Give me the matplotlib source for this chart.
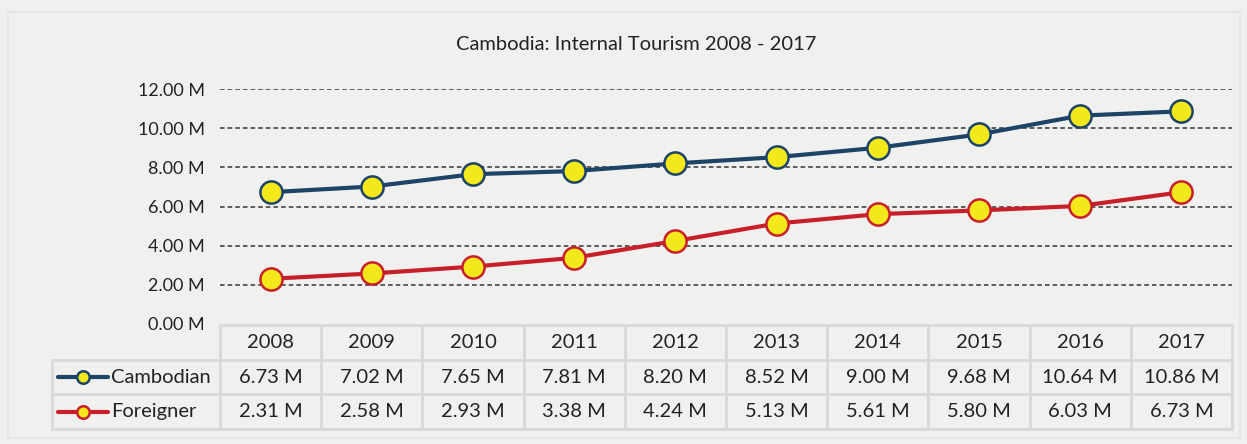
import matplotlib.pyplot as plt
from matplotlib.patches import Rectangle

# data (millions of visitors)
years = ['2008', '2009', '2010', '2011', '2012', '2013', '2014', '2015', '2016', '2017']
cambodian = [6.73, 7.02, 7.65, 7.81, 8.20, 8.52, 9.00, 9.68, 10.64, 10.86]
foreigner = [2.31, 2.58, 2.93, 3.38, 4.24, 5.13, 5.61, 5.80, 6.03, 6.73]
series_names = ['Cambodian', 'Foreigner']
series_colors = ['#1d4366', '#c8202b']
marker_color = '#f2e81a'

plt.rcParams['font.family'] = ['Lato', 'DejaVu Sans']
W, H = 1247, 444
fig = plt.figure(figsize=(W / 100, H / 100), dpi=100)
fig.patch.set_facecolor('#f0f1ee')

# faint outer frame
fig.add_artist(Rectangle((8 / W, 1 - 438 / H), 1232 / W, 426 / H, transform=fig.transFigure,
                         fill=False, edgecolor='#e6e7e5', lw=1.5))

fig.text(636 / W, 1 - 45 / H, 'Cambodia: Internal Tourism 2008 - 2017', ha='center', va='center',
         fontsize=14.5, color='#222222')

# main plot
left, right = 220, 1232
top, bottom = 89, 324
ax = fig.add_axes([left / W, 1 - bottom / H, (right - left) / W, (bottom - top) / H])
ax.set_facecolor('none')
x = list(range(len(years)))
for vals, col in zip([cambodian, foreigner], series_colors):
    ax.plot(x, vals, color=col, lw=3, marker='o', markersize=16, markerfacecolor=marker_color,
            markeredgecolor=col, markeredgewidth=1.8, zorder=3, clip_on=False)
ax.set_xlim(-0.5, len(years) - 0.5)
ax.set_ylim(0, 12)
ax.set_yticks(range(0, 13, 2))
ax.set_yticklabels([f'{v:.2f} M' for v in range(0, 13, 2)], fontsize=13, color='#222222')
ax.set_xticks([])
ax.tick_params(axis='y', length=0, pad=11)
for s in ax.spines.values():
    s.set_visible(False)
for v in range(2, 13, 2):
    ax.axhline(v, color='#333333', lw=1.1, ls=(0, (3, 2)), zorder=1)

# data table
tleft, ttop, tbottom = 52, 325, 429
colw = (right - left) / len(years)
label_w = (left - tleft) / colw
tax = fig.add_axes([tleft / W, 1 - tbottom / H, (right - tleft) / W, (tbottom - ttop) / H])
tax.set_xlim(-0.5 - label_w, len(years) - 0.5)
tax.set_ylim(3, 0)
tax.axis('off')
grid_col = '#d8d9da'
fs = 14.5
for i, yr in enumerate(years):
    tax.add_patch(Rectangle((i - 0.5, 0), 1, 3, fill=False, edgecolor=grid_col, lw=2, clip_on=False))
    tax.text(i, 0.5, yr, ha='center', va='center', fontsize=fs, color='#222222')
    tax.text(i, 1.5, f'{cambodian[i]:.2f} M', ha='center', va='center', fontsize=fs, color='#222222')
    tax.text(i, 2.5, f'{foreigner[i]:.2f} M', ha='center', va='center', fontsize=fs, color='#222222')
for r in (1, 2):
    tax.add_patch(Rectangle((-0.5 - label_w, r), label_w + len(years), 1, fill=False,
                            edgecolor=grid_col, lw=2, clip_on=False))
x0 = -0.5 - label_w
for r, (name, col) in enumerate(zip(series_names, series_colors)):
    yy = 1.5 + r
    tax.plot([x0 + 0.06, x0 + 0.55], [yy, yy], color=col, lw=3, solid_capstyle='round', clip_on=False)
    tax.plot([x0 + 0.305], [yy], marker='o', markersize=9, markerfacecolor=marker_color,
             markeredgecolor=col, markeredgewidth=1.8, clip_on=False)
    tax.text(x0 + 0.58, yy, name, ha='left', va='center', fontsize=fs, color='#222222')

fig.savefig('out.png', dpi=100, facecolor=fig.get_facecolor())
